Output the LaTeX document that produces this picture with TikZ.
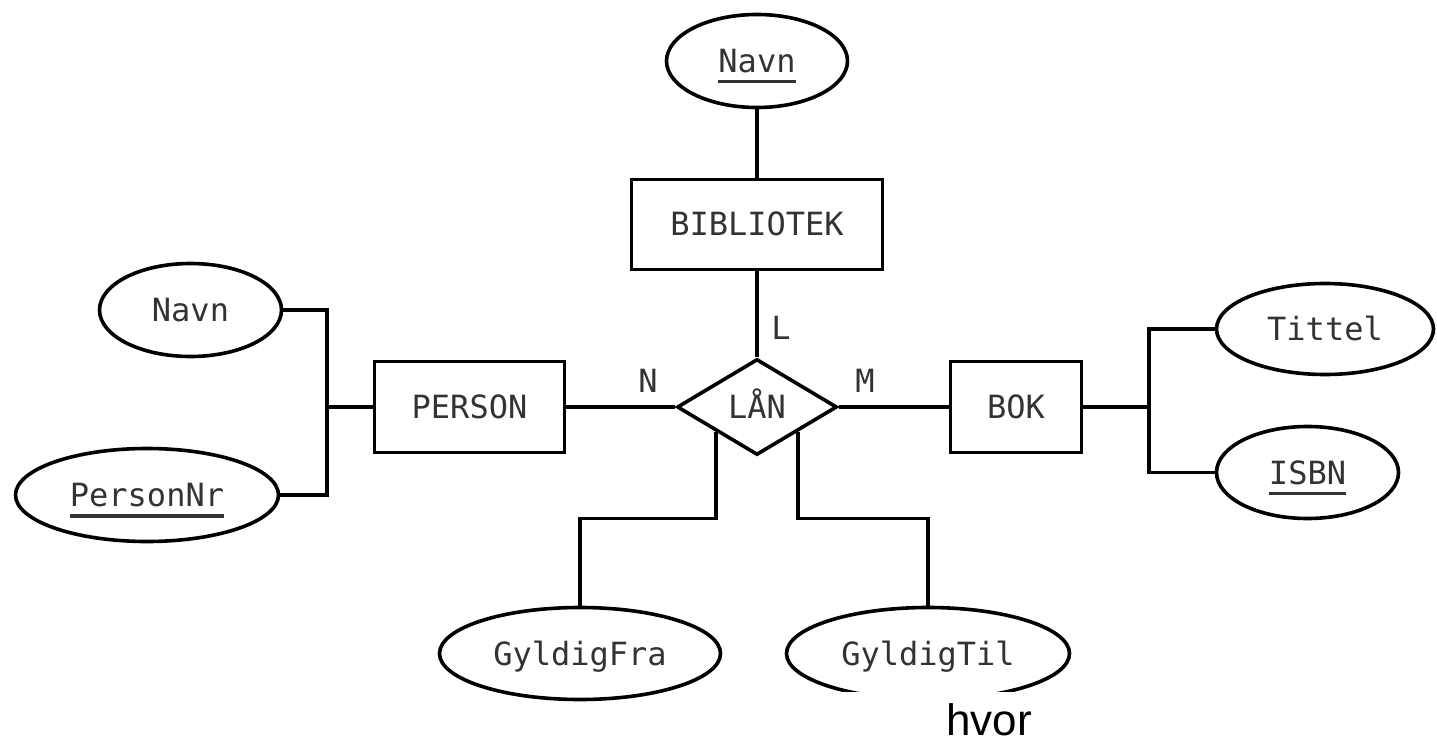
\documentclass[tikz,border=0pt]{standalone}
\usepackage{fontspec}
\usetikzlibrary{shapes.geometric}
\newfontfamily\erfont{DejaVu Sans Mono}
\newfontfamily\notefont{Liberation Sans}
% underlined key attribute
\newcommand\keyattr[1]{\leavevmode\setbox0\hbox{#1}\rlap{\smash{\rule[-11pt]{\wd0}{3.2pt}}}\box0}

\begin{document}
\begin{tikzpicture}[x=1pt,y=-1pt,
  ertext/.style={text=black!80, font=\erfont\fontsize{32pt}{38pt}\selectfont,
                 text height=23pt, text depth=0pt, inner sep=0pt},
  er/.style={ertext, draw=black, line width=3.6pt},
  entity/.style={er, rectangle},
  attr/.style={er, ellipse},
  rel/.style={er, diamond, aspect=1.67},
  card/.style={ertext},
  link/.style={line width=3.6pt, line join=miter}
]
\useasboundingbox (0,0) rectangle (1437,743);

% entities and relationship
\node[entity, minimum width=251pt, minimum height=90pt] (bib) at (757,224.5) {BIBLIOTEK};
\node[rel, minimum width=160pt, minimum height=96pt] (lan) at (757,407) {LÅN};
\node[entity, minimum width=190pt, minimum height=91pt] (person) at (469.5,407) {PERSON};
\node[entity, minimum width=131pt, minimum height=91pt] (bok) at (1016,407) {BOK};

% attributes
\node[attr, minimum width=181pt, minimum height=93pt] (bnavn) at (757,61) {\keyattr{Navn}};
\node[attr, minimum width=182pt, minimum height=93pt] (pnavn) at (190.5,310) {Navn};
\node[attr, minimum width=263pt, minimum height=93pt] (pnr) at (147,495) {\keyattr{PersonNr}};
\node[attr, minimum width=217pt, minimum height=91pt] (tittel) at (1325,329) {Tittel};
\node[attr, minimum width=182pt, minimum height=92pt] (isbn) at (1307.5,472.5) {\keyattr{ISBN}};
\node[attr, minimum width=281pt, minimum height=92pt] (gf) at (580,653.5) {GyldigFra};
\node[attr, minimum width=283pt, minimum height=92pt] (gt) at (928,653.5) {GyldigTil};

% cardinalities
\node[card] (cN) at (648,381) {N};
\node[card] (cM) at (865,381) {M};
\node[card] (cL) at (781,328) {L};

% junctions
\coordinate (lbus) at (327,407);
\coordinate (rbus) at (1149,407);

% connectors
\draw[link] (bnavn.south) -- (bib.north);
\draw[link] (bib.south) -- (lan.north);
\draw[link] (person.east) -- (lan.west);
\draw[link] (lan.east) -- (bok.west);
\draw[link] (pnavn.east) -| (lbus) |- (pnr.east);
\draw[link] (lbus) -- (person.west);
\draw[link] (tittel.west) -| (rbus) |- (isbn.west);
\draw[link] (bok.east) -- (rbus);
\draw[link] (lan.south west) -- ++(0,86.5) -| (gf.north);
\draw[link] (lan.south east) -- ++(0,86.5) -| (gt.north);

% cut-off lower edge
\fill[white] (775,692) rectangle (1100,743);
\node[anchor=base, inner sep=0pt, text=black, font=\notefont\fontsize{44pt}{50pt}\selectfont] (note) at (989,735) {hvor};
\end{tikzpicture}
\end{document}
